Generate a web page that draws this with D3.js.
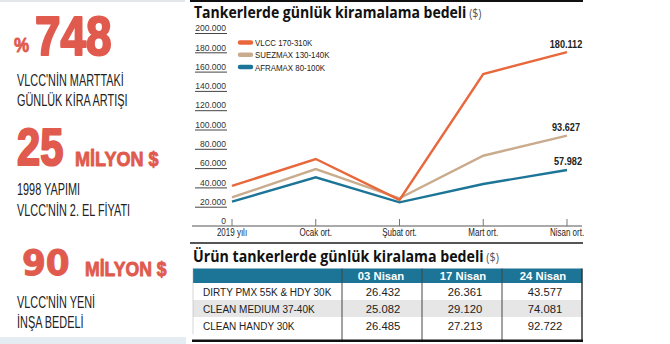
<!DOCTYPE html>
<html><head><meta charset="utf-8">
<script src="https://cdn.jsdelivr.net/npm/d3@7"></script>
<style>
html,body{margin:0;padding:0;background:#fff;}
svg{display:block;}
</style></head>
<body>
<svg id="c" width="670" height="344"></svg>
<script>
// ---- data ----
const categories = ["2019 yılı", "Ocak ort.", "Şubat ort.", "Mart ort.", "Nisan ort."];
const vlcc = [41500, 69400, 27000, 157500, 180112];
const suezmax = [29700, 59000, 28700, 72800, 93627];
const aframax = [25200, 50500, 24500, 43500, 57982];
const seriesNames = ["VLCC  170-310K", "SUEZMAX 130-140K", "AFRAMAX 80-100K"];
const yTicks = [0, 20000, 40000, 60000, 80000, 100000, 120000, 140000, 160000, 180000, 200000];

const tableColumns = ["03 Nisan", "17 Nisan", "24 Nisan"];
const tableRows = ["DIRTY PMX 55K & HDY 30K", "CLEAN MEDIUM 37-40K", "CLEAN HANDY 30K"];
const nisan03 = [26432, 25082, 26485];
const nisan17 = [26361, 29120, 27213];
const nisan24 = [43577, 74081, 92722];

const statNumbers = ["748", "25", "90"];
const statUnits = ["%", "MİLYON $", "MİLYON $"];
const statLines = [["VLCC'NİN MARTTAKİ", "GÜNLÜK KİRA ARTIŞI"], ["1998 YAPIMI", "VLCC'NİN 2. EL FİYATI"], ["VLCC'NİN YENİ", "İNŞA BEDELİ"]];

// ---- setup ----
const colors = ["#e8683c", "#c9ab8d", "#1c7597"];
const red = "#e05a4e";
const trLocale = d3.formatLocale({decimal: ",", thousands: ".", grouping: [3], currency: ["", "$"]});
const fmt = trLocale.format(",.0f");
const ARIAL = '"Liberation Sans",Arial,sans-serif';
const SANS = '"Open Sans","Noto Sans",sans-serif';

const svg = d3.select("#c");

// condensed text helper (horizontal scale)
function txt(parent, x, y, str, o) {
  o = o || {};
  const g = parent.append("g").attr("transform", `translate(${x},${y}) scale(${o.sx || 1},1)`);
  const t = g.append("text").attr("x", 0).attr("y", 0)
    .attr("text-anchor", o.anchor || "start")
    .attr("fill", o.fill || "#222")
    .style("font-family", o.family || ARIAL)
    .style("font-size", (o.size || 11) + "px")
    .style("font-weight", o.weight || "normal")
    .text(str);
  if (o.stroke) t.attr("stroke", o.fill).attr("stroke-width", o.stroke).attr("stroke-linejoin", "round");
  return t;
}

// ---- left panel ----
const left = svg.append("g");
left.append("rect").attr("x", 0).attr("y", 0).attr("width", 185).attr("height", 2).attr("fill", "#e3e7ea");
left.append("rect").attr("x", 0).attr("y", 337).attr("width", 186).attr("height", 7).attr("fill", "#e6edf2");

txt(left, 14, 52, statUnits[0], {size: 20, weight: "bold", fill: red, sx: 0.85, stroke: 0.8});
txt(left, 35, 55, statNumbers[0], {size: 56, weight: "bold", fill: red, sx: 0.82, stroke: 2.2});
txt(left, 17, 165, statNumbers[1], {size: 52, weight: "bold", fill: red, sx: 0.8, stroke: 2.2});
txt(left, 75, 166, statUnits[1], {size: 21, weight: "bold", fill: red, sx: 0.86, stroke: 0.9});
txt(left, 22, 275, statNumbers[2], {size: 35, weight: "bold", fill: red, family: '"DejaVu Sans",sans-serif', sx: 0.98, stroke: 1});
txt(left, 85, 276, statUnits[2], {size: 21, weight: "bold", fill: red, sx: 0.84, stroke: 0.9});

const lineYs = [[86, 106], [195, 216], [308, 328]];
statLines.forEach((ls, i) => {
  ls.forEach((t, j) => {
    txt(left, 17, lineYs[i][j], t, {size: 16.5, fill: "#222", sx: 0.66});
  });
});

// ---- line chart ----
svg.append("rect").attr("x", 190).attr("y", 0).attr("width", 393).attr("height", 2).attr("fill", "#111");
{
  const g = svg.append("g").attr("transform", "translate(194,17.5) scale(0.85,1)");
  const title = g.append("text").style("font-family", SANS);
  title.append("tspan").style("font-weight", "bold").style("font-size", "16.5px").attr("fill", "#111").text("Tankerlerde günlük kiramalama bedeli");
  title.append("tspan").style("font-size", "12.5px").attr("fill", "#555").text(" ($)");
}

const x = d3.scalePoint().domain(categories).range([232, 567]);
const y = d3.scaleLinear().domain([0, 200000]).range([226, 33]);

// y ticks (labels with underline)
const yt = svg.append("g");
yTicks.forEach(v => {
  if (v !== 0) {
    yt.append("line").attr("x1", 195).attr("x2", 227).attr("y1", y(v) + 0.5).attr("y2", y(v) + 0.5)
      .attr("stroke", "#444").attr("stroke-width", 1);
  }
  txt(yt, 226, y(v) - 1.8, fmt(v), {size: 9.5, fill: "#333", anchor: "end", sx: 0.9});
});

// x axis
svg.append("line").attr("x1", 192).attr("x2", 582).attr("y1", 226).attr("y2", 226).attr("stroke", "#555").attr("stroke-width", 1);
categories.forEach(c => {
  svg.append("line").attr("x1", x(c)).attr("x2", x(c)).attr("y1", 219).attr("y2", 226).attr("stroke", "#777").attr("stroke-width", 1);
  txt(svg, x(c), 235.5, c, {size: 10, fill: "#222", anchor: "middle", sx: 0.8});
});

const allSeries = [vlcc, suezmax, aframax];
const line = d3.line().x((d, i) => x(categories[i])).y(d => y(d));
[2, 1, 0].forEach(k => {
  svg.append("path").datum(allSeries[k]).attr("d", line).attr("fill", "none")
    .attr("stroke", colors[k]).attr("stroke-width", 2.4).attr("stroke-linejoin", "miter");
});
// end labels
const endDy = [-4, -5, -5];
allSeries.forEach((s, k) => {
  const last = s[s.length - 1];
  txt(svg, x(categories[4]) - 1 + (k === 2 ? 2 : 0), y(last) + endDy[k], fmt(last),
    {size: 10.5, weight: "bold", fill: "#222", anchor: "middle", sx: 0.87});
});

// legend
const lg = svg.append("g");
seriesNames.forEach((n, i) => {
  const ly = 42.5 + i * 12.3;
  lg.append("line").attr("x1", 240).attr("x2", 251).attr("y1", ly).attr("y2", ly)
    .attr("stroke", colors[i]).attr("stroke-width", 4.5).attr("stroke-linecap", "round");
  txt(lg, 255, ly + 3.5, n, {size: 9.5, fill: "#222", sx: 0.83});
});

// separator
svg.append("rect").attr("x", 190).attr("y", 242).attr("width", 393).attr("height", 2).attr("fill", "#555");

// ---- table ----
{
  const g = svg.append("g").attr("transform", "translate(193,262) scale(0.86,1)");
  const t2 = g.append("text").style("font-family", SANS);
  t2.append("tspan").style("font-weight", "bold").style("font-size", "16.5px").attr("fill", "#111").text("Ürün tankerlerde günlük kiralama bedeli");
  t2.append("tspan").style("font-size", "12.5px").attr("fill", "#555").text(" ($)");
}

const colEdges = [193, 342, 422, 502, 582];
const headerTop = 268.5, headerBottom = 283;
const rowBand = d3.scaleBand().domain(tableRows).range([headerBottom, 334]).paddingInner(0);
svg.append("rect").attr("x", colEdges[0]).attr("y", headerTop).attr("width", colEdges[4] - colEdges[0]).attr("height", headerBottom - headerTop).attr("fill", "#1c7597");
tableRows.forEach((r, i) => {
  if (i === 1) {
    svg.append("rect").attr("x", colEdges[0]).attr("y", rowBand(r)).attr("width", colEdges[4] - colEdges[0]).attr("height", rowBand.bandwidth()).attr("fill", "#e6e6e6");
  }
});
const colCenters = [381, 463, 543];
tableColumns.forEach((c, j) => {
  txt(svg, colCenters[j], headerBottom - 3, c, {size: 11.5, weight: "bold", fill: "#fff", anchor: "middle", sx: 0.98});
});
const tableCols = [nisan03, nisan17, nisan24];
tableRows.forEach((r, i) => {
  const cy = rowBand(r) + rowBand.bandwidth() / 2 + 4.2;
  txt(svg, 203, cy, r, {size: 11.5, fill: "#222", sx: 0.87});
  tableCols.forEach((col, j) => {
    txt(svg, colCenters[j] + 2, cy, fmt(col[i]), {size: 11.5, fill: "#222", anchor: "middle", sx: 0.98});
  });
});
// vertical separators
colEdges.slice(1).forEach((e, j) => {
  svg.append("line").attr("x1", e).attr("x2", e).attr("y1", headerTop).attr("y2", 340)
    .attr("stroke", j === 3 ? "#333" : "#444").attr("stroke-width", j === 3 ? 1.5 : 1);
});
svg.append("line").attr("x1", colEdges[0]).attr("x2", colEdges[0]).attr("y1", headerTop).attr("y2", 334).attr("stroke", "#aaa").attr("stroke-width", 0.5);
svg.append("rect").attr("x", 192).attr("y", 339.5).attr("width", 391).attr("height", 2.5).attr("fill", "#111");
</script>
</body></html>
